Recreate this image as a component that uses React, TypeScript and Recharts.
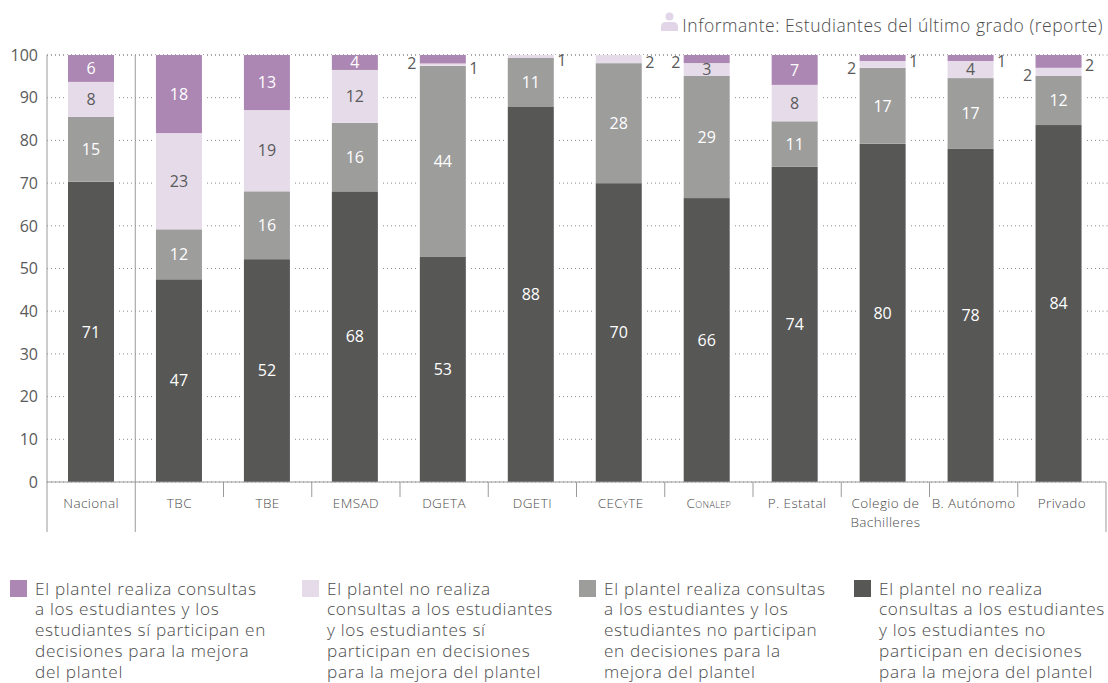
import { BarChart, Bar, XAxis, YAxis, CartesianGrid, LabelList } from "recharts";

const FONT = '"Open Sans", sans-serif';
const TEXT = "#5a5a5a";
const LIGHT_TEXT = "#4c4c4c";

const categories = [
  "Nacional",
  "TBC",
  "TBE",
  "EMSAD",
  "DGETA",
  "DGETI",
  "CECyTE",
  "Conalep",
  "P. Estatal",
  "Colegio de\nBachilleres",
  "B. Autónomo",
  "Privado",
];
const smallCapCategories = ["CECyTE", "Conalep"];

// bar heights
const noConsultaNoParticipa = [70.3, 47.5, 52.2, 68.1, 52.7, 88, 70, 66.5, 73.8, 79.2, 78, 83.6];
const consultaNoParticipa = [15.2, 11.7, 15.9, 16, 44.8, 11.3, 28.1, 28.6, 10.7, 17.8, 16.6, 11.5];
const noConsultaParticipa = [8.2, 22.5, 19, 12.4, 0.5, 0.7, 1.9, 3, 8.5, 1.6, 4, 1.9];
const consultaParticipa = [6.3, 18.3, 12.9, 3.5, 2, 0, 0, 1.9, 7, 1.4, 1.4, 3];

// the printed figures are rounded in the source and don't always agree with the heights
const noConsultaNoParticipaLabels = ["71", "47", "52", "68", "53", "88", "70", "66", "74", "80", "78", "84"];
const consultaNoParticipaLabels = ["15", "12", "16", "16", "44", "11", "28", "29", "11", "17", "17", "12"];
const noConsultaParticipaLabels = ["8", "23", "19", "12", "1", "1", "2", "3", "8", "2", "4", "2"];
const consultaParticipaLabels = ["6", "18", "13", "4", "2", "", "", "2", "7", "1", "1", "2"];

// which side of the bar a label goes on when its segment is too thin
const noConsultaParticipaSides = ["", "", "", "", "right", "right", "right", "", "", "left", "", "left"];
const consultaParticipaSides = ["", "", "", "", "left", "", "", "left", "", "right", "right", "right"];

const yTicks = [0, 10, 20, 30, 40, 50, 60, 70, 80, 90, 100];

const legendItems = [
  {
    color: "#ad87b3",
    left: 10,
    textLeft: 35,
    lines: ["El plantel realiza consultas", "a los estudiantes y los", "estudiantes sí participan en", "decisiones para la mejora", "del plantel"],
  },
  {
    color: "#e6dbe9",
    left: 302,
    textLeft: 327,
    lines: ["El plantel no realiza", "consultas a los estudiantes", "y los estudiantes sí", "participan en decisiones", "para la mejora del plantel"],
  },
  {
    color: "#9d9d9c",
    left: 579,
    textLeft: 604,
    lines: ["El plantel realiza consultas", "a los estudiantes y los", "estudiantes no participan", "en decisiones para la", "mejora del plantel"],
  },
  {
    color: "#575756",
    left: 854,
    textLeft: 879,
    lines: ["El plantel no realiza", "consultas a los estudiantes", "y los estudiantes no", "participan en decisiones", "para la mejora del plantel"],
  },
];

const data = categories.map((name, i) => ({
  name,
  a: noConsultaNoParticipa[i],
  b: consultaNoParticipa[i],
  c: noConsultaParticipa[i],
  d: consultaParticipa[i],
  aLabel: noConsultaNoParticipaLabels[i],
  bLabel: consultaNoParticipaLabels[i],
  cLabel: noConsultaParticipaLabels[i],
  dLabel: consultaParticipaLabels[i],
}));

// the bars sit on a slightly tighter pitch than the separators under the axis
const PLOT_LEFT = 47;
const PLOT_RIGHT = 1102.5;
const AXIS_RIGHT = 1106;
const GRID_RIGHT = 1108;
const TICK_BAND = (AXIS_RIGHT - PLOT_LEFT) / categories.length;
const AXIS_COLOR = "#9a9a9a";
const GRID_COLOR = "#8a8a8a";

// white halo so the dotted grid stops just short of the bars
function HaloBar(props: any) {
  const { x, y, width, height, fill } = props;
  if (!height) return null;
  return (
    <g>
      <rect x={x - 3} y={y} width={width + 6} height={height} fill="#fff" />
      <rect x={x} y={y} width={width} height={height} fill={fill} />
    </g>
  );
}

function CategoryTick(props: any) {
  const { y, index, payload } = props;
  const left = PLOT_LEFT + index * TICK_BAND;
  const center = left + TICK_BAND / 2;
  const lines = String(payload.value).split("\n");
  const tall = index < 2;
  const isLast = index === categories.length - 1;
  const caps = smallCapCategories.includes(payload.value);
  return (
    <g>
      <line x1={left} x2={left} y1={index === 1 ? 55 : y} y2={y + (tall ? 50 : 15)} stroke={AXIS_COLOR} />
      {isLast && <line x1={PLOT_RIGHT} x2={AXIS_RIGHT} y1={y} y2={y} stroke={AXIS_COLOR} />}
      {isLast && <line x1={AXIS_RIGHT} x2={AXIS_RIGHT} y1={y} y2={y + 50} stroke={AXIS_COLOR} />}
      <text
        x={center}
        y={y + 26}
        textAnchor="middle"
        fontSize={13.5}
        fontWeight={300}
        letterSpacing={0.4}
        fill={LIGHT_TEXT}
        fontFamily={FONT}
        style={{ fontVariant: caps ? "small-caps" : "normal" }}
      >
        {lines.map((line, i) => (
          <tspan key={i} x={center} dy={i === 0 ? 0 : 18.5}>
            {line}
          </tspan>
        ))}
      </text>
    </g>
  );
}

function ValueTick(props: any) {
  const { x, y, payload } = props;
  return (
    <g>
      {payload.value > 0 && (
        <line x1={PLOT_RIGHT} x2={GRID_RIGHT} y1={y} y2={y} stroke={GRID_COLOR} strokeDasharray="1 3" />
      )}
      <text x={x} y={y} dy="0.36em" textAnchor="end" fontSize={16} fill={TEXT} fontFamily={FONT}>
        {payload.value}
      </text>
    </g>
  );
}

function makeLabel(color: string, sides?: string[]) {
  return function SegmentLabel(props: any) {
    const { x, y, width, height, value, index } = props;
    if (!value) return null;
    const side = sides ? sides[index] : "";
    let tx = x + width / 2;
    let ty = y + height / 2;
    let fill = color;
    if (side === "left") {
      tx = x - 8;
      ty += 3.5;
      fill = TEXT;
    } else if (side === "right") {
      tx = x + width + 8;
      ty += 3.5;
      fill = TEXT;
    }
    return (
      <text x={tx} y={ty} dy="0.36em" textAnchor="middle" fontSize={16} fill={fill} fontFamily={FONT}>
        {value}
      </text>
    );
  };
}

export default function App() {
  return (
    <div style={{ position: "absolute", left: 0, top: 0, width: 1108, height: 683, overflow: "hidden", fontFamily: FONT }}>
      <div
        style={{
          position: "absolute",
          right: 5,
          top: 15,
          fontSize: 17.5,
          fontWeight: 300,
          letterSpacing: 0.52,
          lineHeight: "20px",
          color: LIGHT_TEXT,
          whiteSpace: "nowrap",
        }}
      >
        <svg width={18} height={20} style={{ verticalAlign: "top", marginRight: 3, marginTop: -3 }}>
          <circle cx={8.5} cy={4.5} r={4} fill="#e3d5e8" />
          <path d="M0 19 V15 Q0 10 5 10 H12 Q17 10 17 15 V19 Z" fill="#e3d5e8" />
        </svg>
        Informante: Estudiantes del último grado (reporte)
      </div>

      <BarChart
        width={1108}
        height={683}
        data={data}
        barSize={46}
        margin={{ top: 55, right: 1108 - PLOT_RIGHT, bottom: 151, left: 0 }}
      >
        <CartesianGrid vertical={false} stroke={GRID_COLOR} strokeDasharray="1 3" />
        <XAxis
          dataKey="name"
          height={50}
          interval={0}
          tick={<CategoryTick />}
          tickLine={false}
          tickSize={0}
          tickMargin={0}
          stroke={AXIS_COLOR}
        />
        <YAxis
          width={47}
          domain={[0, 100]}
          ticks={yTicks}
          interval={0}
          tickLine={false}
          tickSize={0}
          tickMargin={9}
          stroke={AXIS_COLOR}
          tick={<ValueTick />}
        />
        <Bar dataKey="a" stackId="s" fill="#575756" shape={<HaloBar />} isAnimationActive={false}>
          <LabelList dataKey="aLabel" content={makeLabel("#ffffff")} />
        </Bar>
        <Bar dataKey="b" stackId="s" fill="#9d9d9c" shape={<HaloBar />} isAnimationActive={false}>
          <LabelList dataKey="bLabel" content={makeLabel("#ffffff")} />
        </Bar>
        <Bar dataKey="c" stackId="s" fill="#e6dbe9" shape={<HaloBar />} isAnimationActive={false}>
          <LabelList dataKey="cLabel" content={makeLabel(TEXT, noConsultaParticipaSides)} />
        </Bar>
        <Bar dataKey="d" stackId="s" fill="#ad87b3" shape={<HaloBar />} isAnimationActive={false}>
          <LabelList dataKey="dLabel" content={makeLabel("#ffffff", consultaParticipaSides)} />
        </Bar>
      </BarChart>

      {legendItems.map((item) => (
        <div key={item.left}>
          <div
            style={{
              position: "absolute",
              left: item.left,
              top: 580,
              width: 17,
              height: 17,
              background: item.color,
            }}
          />
          <div
            style={{
              position: "absolute",
              left: item.textLeft,
              top: 578.5,
              fontSize: 17.2,
              fontWeight: 300,
              letterSpacing: 0.68,
              lineHeight: "20.8px",
              color: LIGHT_TEXT,
              whiteSpace: "nowrap",
            }}
          >
            {item.lines.map((line) => (
              <div key={line}>{line}</div>
            ))}
          </div>
        </div>
      ))}
    </div>
  );
}
